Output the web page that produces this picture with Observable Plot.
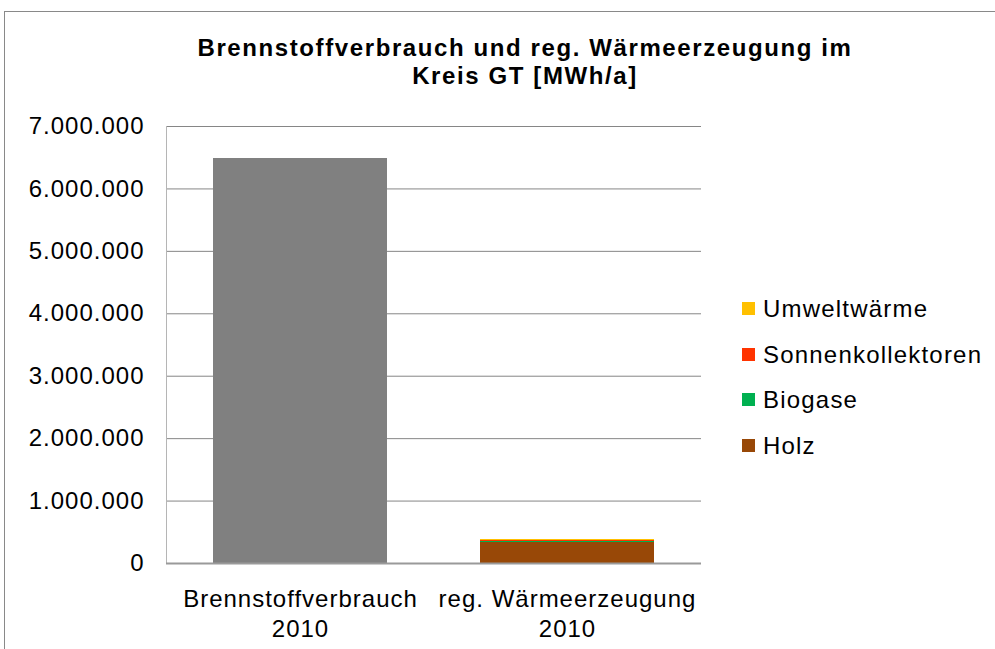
<!DOCTYPE html>
<html>
<head>
<meta charset="utf-8">
<script src="https://cdn.jsdelivr.net/npm/d3@7"></script>
<script src="https://cdn.jsdelivr.net/npm/@observablehq/plot@0.6"></script>
<style>
  html, body { margin: 0; padding: 0; background: #fff; overflow: hidden; }
  #wrap { position: relative; width: 995px; height: 649px; overflow: hidden; font-family: "Liberation Sans", Arial, sans-serif; }
  #border { position: absolute; left: 4px; top: 11px; width: 1200px; height: 900px; border-left: 1px solid #898989; border-top: 1px solid #898989; }
  .title { position: absolute; left: 0; width: 1050px; text-align: center; font-weight: bold; font-size: 24px; letter-spacing: 1.6px; line-height: 28px; color: #000; }
  .leg { position: absolute; left: 742px; height: 26px; }
  .leg .sw { position: absolute; left: 0; top: 6px; width: 13px; height: 13px; }
  .leg .lb { position: absolute; left: 21px; top: 0; font-size: 24px; line-height: 26px; letter-spacing: 1.2px; white-space: nowrap; color: #000; }
  #chart { position: absolute; left: 0; top: 0; }
</style>
</head>
<body>
<div id="wrap">
  <div id="border"></div>
  <div id="chart"></div>
</div>
<script>
// ---- data ----
const categories = ["Brennstoffverbrauch 2010", "reg. Wärmeerzeugung 2010"];
const series = ["Brennstoffverbrauch", "Holz", "Biogase", "Sonnenkollektoren", "Umweltwärme"];
const seriesColors = ["#808080", "#984807", "#00B050", "#FF3300", "#FFC000"];
const brennstoffverbrauch = [6490000, 0];
const holz = [0, 341000];
const biogase = [0, 16000];
const sonnenkollektoren = [0, 17000];
const umweltwaerme = [0, 16000];
const yTicks = [0, 1000000, 2000000, 3000000, 4000000, 5000000, 6000000, 7000000];
const titleLines = ["Brennstoffverbrauch und reg. Wärmeerzeugung im", "Kreis GT [MWh/a]"];
const legendSeries = ["Umweltwärme", "Sonnenkollektoren", "Biogase", "Holz"];

const seriesValues = {
  "Brennstoffverbrauch": brennstoffverbrauch,
  "Holz": holz,
  "Biogase": biogase,
  "Sonnenkollektoren": sonnenkollektoren,
  "Umweltwärme": umweltwaerme
};
const data = [];
categories.forEach((c, i) => {
  series.forEach(s => {
    const v = seriesValues[s][i];
    if (v > 0) data.push({category: c, series: s, value: v});
  });
});

const de = d3.formatLocale({decimal: ",", thousands: ".", grouping: [3], currency: ["", " €"]});
const fmt = de.format(",");

const chart = Plot.plot({
  width: 995,
  height: 649,
  marginLeft: 166,
  marginRight: 294,
  marginTop: 126,
  marginBottom: 86,
  style: {fontFamily: "'Liberation Sans', Arial, sans-serif", fontSize: "24px", letterSpacing: "1px", color: "#000", background: "transparent"},
  x: {domain: categories, paddingInner: 0.35, paddingOuter: 0.175, axis: null},
  y: {domain: [0, 7000000], axis: null},
  color: {domain: series, range: seriesColors},
  marks: [
    Plot.gridY(yTicks, {stroke: "#868686", strokeOpacity: 1}),
    Plot.frame({anchor: "left", stroke: "#b5b5b5"}),
    Plot.barY(data, {x: "category", y: "value", fill: "series", order: series, shapeRendering: "crispEdges"}),
    Plot.ruleY([0], {stroke: "#9a9a9a", strokeWidth: 2}),
    Plot.axisY(yTicks, {label: null, tickSize: 0, tickPadding: 22, tickFormat: fmt, fontSize: 24, fill: "#000"}),
    Plot.axisX({label: null, tickSize: 0, tickPadding: 22, fontSize: 24, lineHeight: 1.25, fill: "#000",
      tickFormat: d => d.replace(/ (\d+)$/, "\n$1")})
  ]
});
document.getElementById("chart").appendChild(chart);

const wrap = document.getElementById("wrap");
titleLines.forEach((t, i) => {
  const el = document.createElement("div");
  el.className = "title";
  el.style.top = (34 + i * 28) + "px";
  el.textContent = t;
  wrap.appendChild(el);
});

const legendTops = [296, 341.5, 386.5, 432.5];
legendSeries.forEach((s, i) => {
  const row = document.createElement("div");
  row.className = "leg";
  row.style.top = legendTops[i] + "px";
  const sw = document.createElement("div");
  sw.className = "sw";
  sw.style.background = seriesColors[series.indexOf(s)];
  const lb = document.createElement("div");
  lb.className = "lb";
  lb.textContent = s;
  row.appendChild(sw);
  row.appendChild(lb);
  wrap.appendChild(row);
});
</script>
</body>
</html>
